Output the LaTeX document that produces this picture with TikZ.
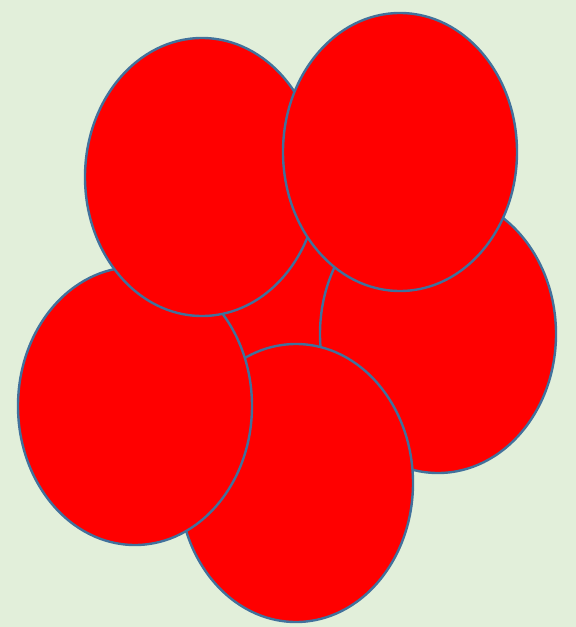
\documentclass[tikz,border=0pt]{standalone}
\definecolor{bg}{HTML}{E2EFDA}
\definecolor{edge}{HTML}{41719C}
\tikzset{blob/.style={fill=red,draw=edge,line width=2.4pt}}
\begin{document}
\begin{tikzpicture}[x=1pt,y=-1pt]
\fill[bg] (0,0) rectangle (576,627);
\useasboundingbox (0,0) rectangle (576,627);
\fill[red] (280,300) circle [radius=76];
\draw[blob] (438,334) ellipse [x radius=118, y radius=139];
\draw[blob] (296,483) ellipse [x radius=117, y radius=139];
\draw[blob] (135,406) ellipse [x radius=117, y radius=139];
\draw[blob] (202,177) ellipse [x radius=117, y radius=139];
\draw[blob] (400,152) ellipse [x radius=117, y radius=139];
\end{tikzpicture}
\end{document}
